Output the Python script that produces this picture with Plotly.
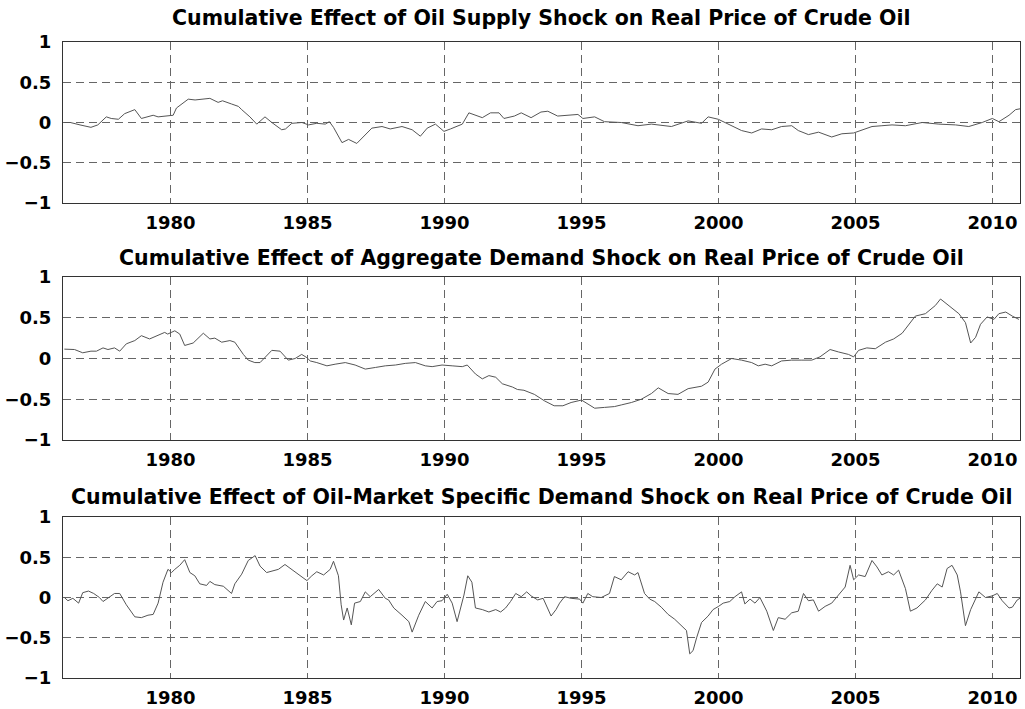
import plotly.graph_objects as go

# ---- data ----
supply_year = [1976.13, 1976.35, 1976.7, 1977.1, 1977.35, 1977.66, 1977.84, 1978.1, 1978.33, 1978.7,
               1978.94, 1979.18, 1979.37, 1979.55, 1979.9, 1980.1, 1980.22, 1980.65, 1980.9, 1981.44,
               1981.74, 1981.9, 1982.23, 1982.48, 1982.6, 1982.9, 1983.15, 1983.45, 1983.7, 1984.06,
               1984.2, 1984.43, 1984.8, 1985.04, 1985.34, 1985.65, 1985.8, 1985.95, 1986.26, 1986.5,
               1986.8, 1987.05, 1987.35, 1987.72, 1988.02, 1988.45, 1988.82, 1989.12, 1989.37, 1989.67,
               1989.98, 1990.22, 1990.65, 1990.89, 1991.38, 1991.68, 1991.99, 1992.17, 1992.55, 1992.8,
               1993.16, 1993.52, 1993.77, 1994.13, 1994.62, 1994.87, 1995.05, 1995.48, 1995.84, 1996.45,
               1997.06, 1997.55, 1998.28, 1998.89, 1999.38, 1999.62, 1999.99, 2000.48, 2000.84, 2001.21,
               2001.57, 2001.94, 2002.3, 2002.67, 2002.91, 2003.28, 2003.65, 2004.13, 2004.5, 2004.93,
               2005.23, 2005.6, 2005.96, 2006.33, 2006.82, 2007.43, 2008.04, 2008.65, 2009.13, 2009.62,
               2009.99, 2010.23, 2010.6, 2010.84, 2011.0]
supply_val = [0.0, 0.0, -0.03, -0.06, -0.03, 0.07, 0.05, 0.04, 0.11, 0.16,
              0.05, 0.07, 0.09, 0.07, 0.08, 0.09, 0.18, 0.29, 0.28, 0.30,
              0.25, 0.27, 0.23, 0.20, 0.16, 0.07, -0.02, 0.07, 0.0, -0.09,
              -0.08, -0.01, 0.0, -0.03, -0.01, -0.02, 0.01, -0.06, -0.25, -0.21,
              -0.26, -0.17, -0.07, -0.05, -0.08, -0.05, -0.09, -0.17, -0.07, -0.02,
              -0.11, -0.08, -0.02, 0.12, 0.06, 0.12, 0.12, 0.05, 0.08, 0.12,
              0.06, 0.13, 0.14, 0.08, 0.09, 0.10, 0.05, 0.07, 0.01, 0.0,
              -0.04, -0.02, -0.05, 0.02, -0.01, 0.07, 0.04, -0.04, -0.10, -0.13,
              -0.08, -0.09, -0.05, -0.04, -0.10, -0.15, -0.12, -0.18, -0.14, -0.13,
              -0.09, -0.05, -0.04, -0.03, -0.04, 0.0, -0.02, -0.03, -0.05, 0.0,
              0.05, 0.01, 0.09, 0.16, 0.17]

agg_year = [1976.13, 1976.5, 1976.8, 1977.1, 1977.3, 1977.54, 1977.72, 1977.96, 1978.15, 1978.39,
            1978.7, 1978.94, 1979.24, 1979.55, 1979.79, 1979.9, 1980.16, 1980.34, 1980.52, 1980.83,
            1981.2, 1981.44, 1981.62, 1981.87, 1982.17, 1982.35, 1982.66, 1982.84, 1983.08, 1983.27,
            1983.45, 1983.7, 1984.0, 1984.3, 1984.55, 1984.79, 1984.98, 1985.1, 1985.34, 1985.71,
            1986.01, 1986.38, 1986.74, 1987.11, 1987.48, 1987.84, 1988.21, 1988.57, 1988.94, 1989.3,
            1989.55, 1989.91, 1990.28, 1990.65, 1990.83, 1991.13, 1991.38, 1991.62, 1991.87, 1992.11,
            1992.48, 1992.66, 1992.9, 1993.28, 1993.65, 1994.0, 1994.32, 1994.62, 1995.0, 1995.23,
            1995.48, 1995.84, 1996.2, 1996.45, 1996.82, 1997.18, 1997.55, 1997.8, 1998.16, 1998.52,
            1998.89, 1999.38, 1999.62, 1999.87, 2000.11, 2000.48, 2000.84, 2001.21, 2001.45, 2001.7,
            2001.94, 2002.3, 2002.67, 2003.04, 2003.4, 2003.7, 2004.07, 2004.38, 2004.74, 2004.93,
            2005.11, 2005.41, 2005.72, 2006.09, 2006.39, 2006.7, 2007.18, 2007.55, 2007.91, 2008.1,
            2008.77, 2009.01, 2009.2, 2009.38, 2009.56, 2009.8, 2010.05, 2010.23, 2010.48, 2010.72,
            2010.96]
agg_val = [0.115, 0.11, 0.07, 0.09, 0.09, 0.13, 0.11, 0.13, 0.09, 0.18,
           0.22, 0.28, 0.24, 0.28, 0.32, 0.30, 0.34, 0.30, 0.16, 0.19,
           0.31, 0.24, 0.25, 0.20, 0.22, 0.20, 0.05, -0.02, -0.05, -0.05,
           0.01, 0.10, 0.09, -0.02, 0.0, 0.05, 0.01, -0.03, -0.05, -0.09,
           -0.07, -0.05, -0.08, -0.13, -0.11, -0.09, -0.08, -0.06, -0.05, -0.09,
           -0.10, -0.08, -0.09, -0.10, -0.08, -0.19, -0.25, -0.21, -0.23, -0.31,
           -0.35, -0.38, -0.39, -0.44, -0.52, -0.58, -0.58, -0.54, -0.51, -0.56,
           -0.61, -0.60, -0.59, -0.57, -0.54, -0.50, -0.43, -0.36, -0.43, -0.44,
           -0.37, -0.34, -0.29, -0.13, -0.07, 0.0, -0.02, -0.05, -0.09, -0.07,
           -0.09, -0.03, -0.02, -0.02, -0.02, 0.02, 0.11, 0.08, 0.05, 0.02,
           0.10, 0.13, 0.12, 0.20, 0.24, 0.31, 0.52, 0.55, 0.65, 0.73,
           0.55, 0.44, 0.19, 0.26, 0.42, 0.51, 0.48, 0.55, 0.57, 0.52,
           0.48]

spec_year = [1976.13, 1976.26, 1976.44, 1976.65, 1976.8, 1977.01, 1977.2, 1977.41, 1977.54, 1977.72,
             1977.96, 1978.15, 1978.39, 1978.7, 1978.94, 1979.18, 1979.37, 1979.55, 1979.73, 1979.91,
             1980.04, 1980.16, 1980.34, 1980.52, 1980.71, 1980.89, 1981.07, 1981.32, 1981.44, 1981.62,
             1981.93, 1982.23, 1982.35, 1982.6, 1982.84, 1983.09, 1983.27, 1983.51, 1983.76, 1983.94,
             1984.18, 1984.43, 1984.73, 1984.98, 1985.16, 1985.34, 1985.59, 1985.83, 1985.95, 1986.13,
             1986.23, 1986.32, 1986.45, 1986.6, 1986.72, 1986.93, 1987.11, 1987.29, 1987.6, 1987.84,
             1987.96, 1988.15, 1988.45, 1988.7, 1988.82, 1989.06, 1989.3, 1989.55, 1989.73, 1989.91,
             1990.1, 1990.28, 1990.46, 1990.71, 1990.85, 1991.0, 1991.13, 1991.38, 1991.62, 1991.87,
             1992.05, 1992.23, 1992.41, 1992.6, 1992.8, 1993.0, 1993.16, 1993.4, 1993.6, 1993.89,
             1994.07, 1994.2, 1994.38, 1994.62, 1994.93, 1995.05, 1995.23, 1995.41, 1995.72, 1996.02,
             1996.2, 1996.45, 1996.7, 1996.94, 1997.06, 1997.3, 1997.49, 1997.67, 1997.91, 1998.16,
             1998.4, 1998.65, 1998.83, 1998.95, 1999.07, 1999.2, 1999.38, 1999.62, 1999.8, 2000.0,
             2000.17, 2000.41, 2000.6, 2000.84, 2000.96, 2001.15, 2001.33, 2001.51, 2001.76, 2002.0,
             2002.18, 2002.43, 2002.67, 2002.91, 2003.1, 2003.28, 2003.46, 2003.65, 2003.89, 2004.13,
             2004.38, 2004.62, 2004.8, 2004.93, 2005.11, 2005.35, 2005.6, 2005.78, 2005.96, 2006.2,
             2006.39, 2006.57, 2006.82, 2007.0, 2007.24, 2007.55, 2007.79, 2007.98, 2008.16, 2008.34,
             2008.52, 2008.71, 2008.83, 2009.01, 2009.2, 2009.38, 2009.5, 2009.74, 2009.99, 2010.17,
             2010.35, 2010.6, 2010.72, 2010.9, 2011.0]
spec_val = [0.0, -0.04, -0.01, -0.07, 0.06, 0.08, 0.05, 0.0, -0.05, -0.01,
            0.05, 0.05, -0.09, -0.24, -0.25, -0.22, -0.21, -0.07, 0.19, 0.35,
            0.31, 0.35, 0.40, 0.47, 0.31, 0.27, 0.17, 0.15, 0.20, 0.16,
            0.14, 0.05, 0.17, 0.29, 0.46, 0.52, 0.39, 0.31, 0.33, 0.35,
            0.41, 0.35, 0.27, 0.21, 0.27, 0.32, 0.28, 0.35, 0.45, 0.27,
            -0.09, -0.28, -0.13, -0.34, -0.07, -0.05, 0.07, 0.01, 0.10, -0.01,
            -0.03, -0.13, -0.22, -0.30, -0.43, -0.22, -0.05, -0.13, -0.05, -0.04,
            0.04, -0.07, -0.30, 0.03, 0.27, 0.19, -0.13, -0.15, -0.18, -0.15,
            -0.18, -0.13, -0.05, 0.05, 0.01, 0.07, 0.02, -0.03, -0.01, -0.23,
            -0.15, -0.07, 0.01, -0.01, -0.02, -0.07, 0.05, 0.01, 0.0, 0.05,
            0.26, 0.22, 0.32, 0.28, 0.31, 0.05, -0.02, -0.05, -0.12, -0.21,
            -0.27, -0.35, -0.41, -0.70, -0.66, -0.50, -0.31, -0.23, -0.15, -0.11,
            -0.07, -0.05, 0.01, 0.07, -0.08, -0.02, -0.07, 0.0, -0.17, -0.41,
            -0.25, -0.27, -0.19, -0.17, 0.05, -0.04, -0.03, -0.17, -0.11, -0.07,
            0.03, 0.13, 0.40, 0.22, 0.28, 0.26, 0.46, 0.38, 0.28, 0.32,
            0.28, 0.34, 0.11, -0.17, -0.13, -0.03, 0.09, 0.17, 0.13, 0.36,
            0.40, 0.28, 0.07, -0.35, -0.15, -0.03, 0.07, 0.0, 0.02, 0.05,
            -0.04, -0.13, -0.12, -0.03, -0.01]

titles = [
    "Cumulative Effect of Oil Supply Shock on Real Price of Crude Oil",
    "Cumulative Effect of Aggregate Demand Shock on Real Price of Crude Oil",
    "Cumulative Effect of Oil-Market Specific Demand Shock on Real Price of Crude Oil",
]
x_ticks = [1980, 1985, 1990, 1995, 2000, 2005, 2010]
y_ticks = [-1, -0.5, 0, 0.5, 1]
y_tick_text = ["\u22121", "\u22120.5", "0", "0.5", "1"]

series = [(supply_year, supply_val), (agg_year, agg_val), (spec_year, spec_val)]

# ---- layout geometry ----
W, H = 1025, 709
x_dom = [63 / W, 1020 / W]
panels_px = [(42, 203), (277, 440), (517, 678)]
title_y_px = [18, 258, 497]

fig = go.Figure()
font_family = "DejaVu Sans"

for i, ((xs, ys), (top, bot)) in enumerate(zip(series, panels_px)):
    n = "" if i == 0 else str(i + 1)
    fig.add_trace(go.Scatter(
        x=xs, y=ys, mode="lines",
        line=dict(color="#555555", width=1),
        xaxis="x" + n, yaxis="y" + n, showlegend=False, hoverinfo="skip",
    ))
    axis_common = dict(
        showline=True, mirror=True, linecolor="#333333", linewidth=1,
        showgrid=True, gridcolor="#666666", gridwidth=1, griddash="8px,5px",
        zeroline=False, ticks="", automargin=False,
        tickfont=dict(family=font_family, size=18, color="black", weight="bold"),
    )
    fig.layout["xaxis" + n] = dict(
        domain=x_dom, anchor="y" + n, range=[1976.08, 2011.0],
        tickmode="array", tickvals=x_ticks, ticktext=[str(t) for t in x_ticks],
        ticklabelstandoff=3, **axis_common,
    )
    fig.layout["yaxis" + n] = dict(
        domain=[1 - bot / H, 1 - top / H], anchor="x" + n, range=[-1, 1],
        tickmode="array", tickvals=y_ticks, ticktext=y_tick_text,
        ticklabelstandoff=7, **axis_common,
    )
    fig.add_annotation(
        text=titles[i], xref="paper", yref="paper",
        x=(x_dom[0] + x_dom[1]) / 2, y=1 - title_y_px[i] / H,
        xanchor="center", yanchor="middle", showarrow=False,
        font=dict(family=font_family, size=20.5, color="black", weight="bold"),
    )

fig.update_layout(
    template="none",
    width=W, height=H,
    margin=dict(l=0, r=0, t=0, b=0, autoexpand=False),
    paper_bgcolor="white", plot_bgcolor="white",
)

fig.write_html(
    "out.html",
    config={"displayModeBar": False},
    post_script="document.body.style.margin='0';document.body.style.overflow='hidden';",
)
